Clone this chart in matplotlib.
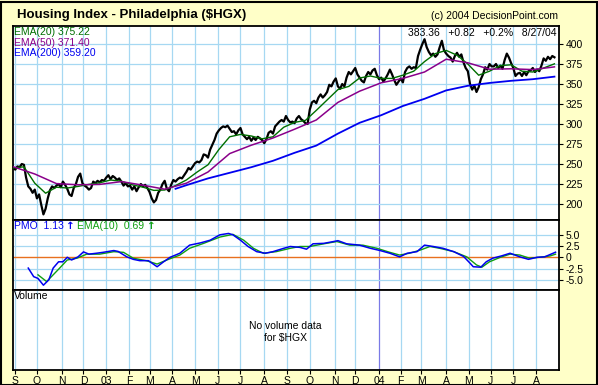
import numpy as np
import pandas as pd
import matplotlib
matplotlib.use("Agg")
import matplotlib.pyplot as plt
from matplotlib.patches import Rectangle

# ---------------- data ----------------
start_date = "2002-08-29"
end_date = "2004-08-27"
nyse_holidays = ["2002-09-02", "2002-11-28", "2002-12-25",
                 "2003-01-01", "2003-01-20", "2003-02-17", "2003-04-18", "2003-05-26",
                 "2003-07-04", "2003-09-01", "2003-11-27", "2003-12-25",
                 "2004-01-01", "2004-01-19", "2004-02-16", "2004-04-09", "2004-05-31",
                 "2004-06-11", "2004-07-05"]

# close read every 2 trading days
close_step = 2
close = [245, 243, 247, 246, 250, 249,
         233, 222, 219, 214, 218, 207, 212, 199, 187, 194, 207, 217,
         222, 220, 223, 225, 221, 228, 224, 219, 212, 210, 220, 225,
         234, 238, 226, 223, 221, 218, 220, 228, 226, 229, 227, 230,
         229, 233, 236, 231, 235, 233, 230, 232, 228, 223, 226, 222,
         223, 218, 222, 216, 221, 225, 222, 224, 220, 215, 207,
         202, 205, 214, 218, 225, 229, 219, 216, 224, 230, 228, 231, 233,
         232, 236, 240, 245, 243, 247, 251, 253, 252, 255, 262, 261,
         258, 268, 274, 280, 288, 292, 295, 297, 296, 298, 294, 290,
         291, 287, 292, 295, 287, 284, 281, 284, 279, 283, 280, 284,
         282, 280, 276, 281, 289, 291, 288, 297, 300, 303, 305, 303,
         310, 305, 302, 303, 301, 307, 310, 306, 304, 301, 300, 318,
         327, 329, 326, 333, 337, 333, 336, 340, 349, 347, 353, 357,
         347, 344, 350, 347, 358, 365, 362, 366, 370, 362, 358, 354,
         352, 360, 365, 362, 367, 369, 361, 356, 358, 353, 357, 362,
         368, 362, 355, 349, 353, 357, 352, 365, 370, 372, 369, 371,
         370, 385, 393, 400, 406, 396, 390, 386, 388, 384, 387,
         396, 404, 392, 388, 385, 383, 378, 385, 389, 384, 387, 377, 370,
         366, 350, 343, 348, 340, 346, 356, 362, 371, 368, 375, 372,
         372, 375, 370, 373, 369, 380, 388, 383, 376, 370, 360, 363,
         364, 360, 365, 361, 366, 367, 370, 365, 368, 366, 373, 382, 379, 384, 381, 385, 383.36]

ema20_step = 10
ema20 = [245, 246.5, 226, 213.5, 221, 220, 222, 224.5, 226.5, 230,
         228.5, 224, 221, 217, 217.5, 223, 230, 240, 249, 268,
         284, 287, 285, 281.5, 284, 296, 302, 304.5, 317, 330,
         343, 347, 357.5, 360, 357, 357, 361, 366, 378, 388,
         392, 386, 375, 361, 366, 373, 374, 366, 365, 370, 375.22]

ema50_step = 20
ema50 = [246.6, 237.5, 225.5, 224, 224.5, 228, 223.5, 218.5, 226, 240,
         263, 273.5, 282.5, 293.5, 305, 327, 341, 351.5, 357, 365,
         381, 376.5, 368.5, 369, 368, 371.40]

ema200_days = [150, 160, 180, 200, 220, 240, 260, 280, 300, 320, 340, 360,
               380, 400, 420, 440, 460, 480, 500]
ema200 = [219, 223.5, 232, 239, 246, 254, 264, 273, 288, 301.5, 311, 322.5,
          331.5, 342, 347.8, 351.3, 354, 356, 359.20]

pmo_days = [14, 19, 23, 28, 33, 37, 42, 46, 50, 54, 60, 65, 70, 77, 83, 93, 97,
            105, 111, 117, 125, 133, 139, 145, 154, 163, 173, 182, 191, 199, 203,
            210, 217, 225, 233, 240, 250, 256, 265, 271, 277, 287, 296, 300, 308,
            320, 330, 339, 348, 357, 364, 373, 380, 388, 397, 407, 416, 422, 425,
            432, 437, 443, 451, 459, 468, 476, 484, 491, 501]
pmo = [-2.4, -4.3, -4.7, -6.2, -5.0, -2.4, -1.0, -1.0, 0.0, -0.6, 0.1, 1.2, 0.7,
       0.9, 1.1, 1.5, 1.3, 0.1, -0.45, -0.75, -0.75, -2.1, -1.0, 0.0, 0.9, 2.7,
       3.2, 3.8, 5.0, 5.3, 5.0, 3.8, 2.4, 1.25, 0.9, 1.25, 2.0, 2.4, 2.2, 1.8,
       3.0, 3.1, 3.5, 3.7, 3.0, 2.7, 2.0, 1.5, 0.9, 0.1, 0.9, 1.25, 2.7, 2.4,
       2.0, 1.25, 0.2, -1.3, -2.1, -2.2, -1.0, -0.2, 0.3, 0.9, 0.1, -0.45, 0.0,
       0.1, 1.13]

sig_days = [23, 31, 37, 43, 50, 59, 68, 80, 93, 102, 111, 123, 133, 142, 154, 163,
            176, 191, 203, 213, 222, 231, 243, 256, 265, 274, 287, 299, 311, 323,
            336, 348, 357, 366, 376, 385, 394, 407, 419, 428, 433, 440, 450, 459,
            468, 477, 486, 496, 501]
sig = [-3.9, -5.4, -3.9, -2.4, -0.6, -0.2, 0.7, 0.7, 1.25, 1.1, -0.2, -0.75, -1.5,
       -0.6, 0.5, 2.0, 3.1, 4.5, 5.1, 3.8, 2.0, 0.9, 1.25, 2.0, 2.4, 2.4, 3.0, 3.5,
       2.7, 2.7, 2.0, 1.1, 0.5, 0.9, 1.6, 2.4, 2.0, 1.25, 0.1, -1.7, -2.2, -1.0, 0.0,
       0.7, 0.5, -0.2, 0.0, 0.3, 0.69]

month_labels = ["S", "O", "N", "D", "03", "F", "M", "A", "M", "J", "J", "A",
                "S", "O", "N", "D", "04", "F", "M", "A", "M", "J", "J", "A"]
price_ticks = [200, 225, 250, 275, 300, 325, 350, 375, 400]
pmo_ticks = [-5.0, -2.5, 0.0, 2.5, 5.0]
pmo_tick_labels = ["-5.0", "-2.5", "0", "2.5", "5.0"]

# ---------------- styling ----------------
W, H = 598, 385
BG = "#FFFFC8"
GRID = "#A6D8F2"
YEARLINE = "#7A7AE6"
GREEN = "#006E00"
plt.rcParams["font.family"] = ["Liberation Sans", "DejaVu Sans"]

fig = plt.figure(figsize=(W / 100, H / 100), dpi=100, facecolor=BG)

def box(top, bottom, left=13, right=559):
    return [left / W, 1 - bottom / H, (right - left) / W, (bottom - top) / H]

ax1 = fig.add_axes(box(26, 220))
ax2 = fig.add_axes(box(220, 290))
ax3 = fig.add_axes(box(290, 370))

days = pd.bdate_range(start_date, end_date, freq="C", holidays=nyse_holidays)
month_pos = [i for i in range(1, len(days)) if days[i].month != days[i - 1].month]
year_pos = [i for i in month_pos if days[i].month == 1]

xlim = (-0.1, 504.2)
for ax in (ax1, ax2, ax3):
    ax.set_facecolor("white")
    ax.set_xlim(*xlim)
    for p in month_pos:
        ax.axvline(p, color=YEARLINE if p in year_pos[1:] else GRID, lw=0.9, zorder=0)
    for s in ax.spines.values():
        s.set_color("black")
        s.set_linewidth(1.3)
    ax.tick_params(axis="x", bottom=False, labelbottom=False)

# price panel
ax1.set_ylim(180, 422.5)
for t in price_ticks:
    ax1.axhline(t, color=GRID, lw=0.9, zorder=0)
close_days = np.arange(len(close)) * close_step
ax1.plot(close_days, close, color="black", lw=1.6, zorder=3)
ax1.plot(np.arange(len(ema20)) * ema20_step, ema20, color=GREEN, lw=1.0, zorder=4)
ax1.plot(np.arange(len(ema50)) * ema50_step, ema50, color="#8A008A", lw=1.1, zorder=4)
ax1.plot(ema200_days, ema200, color="#0000F0", lw=1.3, zorder=4)
ax1.yaxis.tick_right()
ax1.set_yticks(price_ticks)
ax1.set_yticklabels([str(t) for t in price_ticks])
ax1.tick_params(axis="y", labelsize=7.5, length=3, width=0.8, pad=1.5)

# PMO panel
ax2.set_ylim(-7.27, 8.29)
for t in pmo_ticks:
    if t != 0:
        ax2.axhline(t, color=GRID, lw=0.9, zorder=0)
ax2.axhline(0, color="#E8701E", lw=1.0, zorder=1)
ax2.plot(sig_days, sig, color="#10A010", lw=1.0, zorder=3)
ax2.plot(pmo_days, pmo, color="#0000F0", lw=1.1, zorder=4)
ax2.yaxis.tick_right()
ax2.set_yticks(pmo_ticks)
ax2.set_yticklabels(pmo_tick_labels)
ax2.tick_params(axis="y", labelsize=7.5, length=3, width=0.8, pad=1.5)

# volume panel
ax3.set_ylim(0, 1)
ax3.set_yticks([])
ax3.set_xticks(month_pos)
ax3.set_xticklabels(month_labels)
ax3.tick_params(axis="x", bottom=True, labelbottom=True, labelsize=7.5,
                length=3, width=0.8, pad=1)

def px(x, y):
    return x / W, 1 - y / H

fs = 7.5
fig.text(*px(17, 15), "Housing Index - Philadelphia ($HGX)", fontsize=9.5,
         fontweight="bold", va="center", ha="left")
fig.text(*px(558, 16), "(c) 2004 DecisionPoint.com", fontsize=fs, va="center", ha="right")
fig.text(*px(14, 32), "EMA(20) 375.22", fontsize=fs, color=GREEN, va="center")
fig.text(*px(14, 43), "EMA(50) 371.40", fontsize=fs, color="#8A008A", va="center")
fig.text(*px(14, 53), "EMA(200) 359.20", fontsize=fs, color="#0000F0", va="center")
fig.text(*px(557, 33), "383.36   +0.82   +0.2%   8/27/04", fontsize=fs, va="center", ha="right")
fig.text(*px(14, 226), "PMO  1.13", fontsize=fs, color="#0000F0", va="center")
fig.text(*px(66, 226), "\u2191", fontsize=fs, color="#0000F0", va="center", fontweight="bold",
         family=["DejaVu Sans"])
fig.text(*px(77, 226), "EMA(10)  0.69", fontsize=fs, color="#10A010", va="center")
fig.text(*px(147, 226), "\u2191", fontsize=fs, color="#10A010", va="center", fontweight="bold",
         family=["DejaVu Sans"])
fig.text(*px(14, 296), "Volume", fontsize=fs, va="center")
fig.text(*px(285, 326), "No volume data", fontsize=fs, va="center", ha="center")
fig.text(*px(285, 338), "for $HGX", fontsize=fs, va="center", ha="center")

fig.add_artist(Rectangle((0.5 / W, 0.5 / H), (W - 2) / W, (H - 2) / H, transform=fig.transFigure,
                         fill=False, edgecolor="black", lw=1.5))

fig.savefig("out.png", dpi=100, facecolor=BG)
